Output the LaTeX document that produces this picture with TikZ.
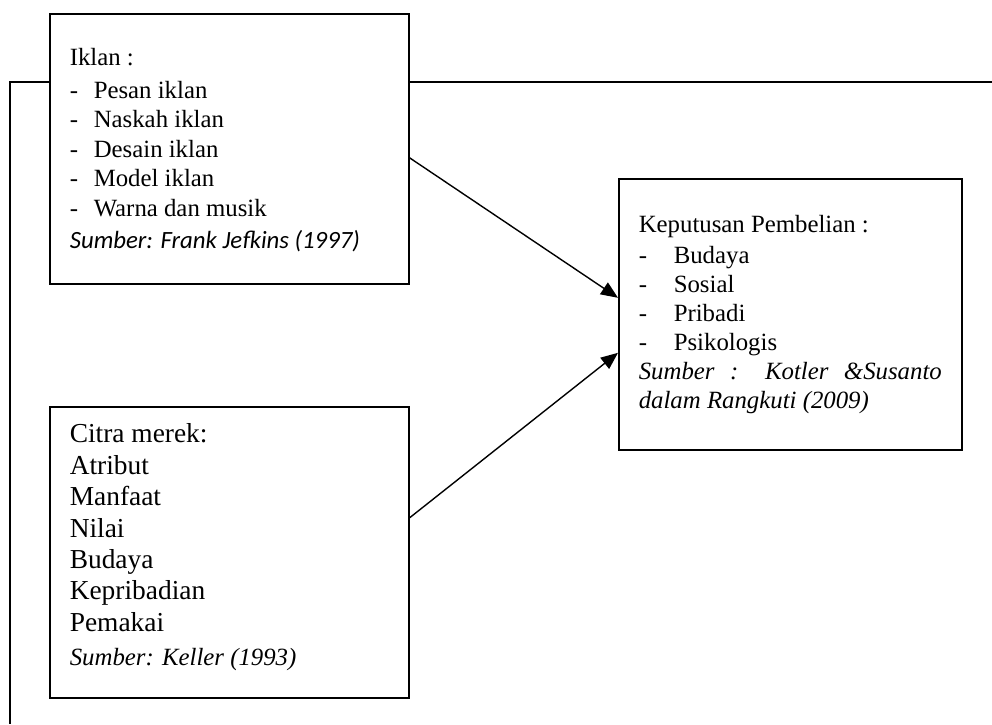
\documentclass[tikz,border=0pt]{standalone}
\usepackage{fontspec}
\setmainfont{Liberation Serif}
\newfontfamily\calibri{Carlito}
\usepackage{tikz}
\usetikzlibrary{arrows.meta, positioning}

% box content, top aligned: width, height, text
\newcommand{\isikotak}[3]{\parbox[c][#2][t]{#1}{#3}}
\newcommand{\butir}[2]{\makebox[#1][l]{-}#2\par}

\tikzset{
  kotak/.style={
    draw, line width=0.8pt, fill=white, anchor=north west,
    inner xsep=10pt, inner ysep=0pt, align=left
  },
  panah/.style={-{Triangle[length=8.5pt, width=7pt]}, line width=0.7pt},
  bingkai/.style={line width=0.9pt}
}

\begin{document}
\begin{tikzpicture}[x=0.5pt, y=-0.5pt]
  \useasboundingbox (0,0) rectangle (992,724);

  % outer frame line
  \coordinate (frameR) at (992,82);
  \coordinate (frameB) at (10,724);
  \draw[bingkai] (frameR) -| (frameB);

  \node[kotak] (iklan) at (49,13) {\isikotak{159.5pt}{135pt}{%
    \fontsize{12.4}{14.75}\selectfont
    \rule{0pt}{26pt}Iklan :\par\vspace{1.5pt}
    \butir{12pt}{Pesan iklan}
    \butir{12pt}{Naskah iklan}
    \butir{12pt}{Desain iklan}
    \butir{12pt}{Model iklan}
    \butir{12pt}{Warna dan musik}
    \vspace{1.2pt}{\calibri\itshape Sumber: Frank Jefkins (1997)}\par}};

  \node[kotak] (citra) at (49,406) {\isikotak{159.5pt}{145.5pt}{%
    \fontsize{13.7}{15.7}\selectfont
    \rule{0pt}{18pt}Citra merek:\par
    Atribut\par
    Manfaat\par
    Nilai\par
    Budaya\par
    Kepribadian\par
    Pemakai\par
    \vspace{1.3pt}{\fontsize{12.4}{15}\selectfont\itshape Sumber: Keller (1993)}\par}};

  \node[kotak] (keputusan) at (618,178) {\isikotak{151.5pt}{135.5pt}{%
    \fontsize{12.4}{14.5}\selectfont
    \rule{0pt}{27pt}Keputusan Pembelian :\par\vspace{1pt}
    \butir{17.5pt}{Budaya}
    \butir{17.5pt}{Sosial}
    \butir{17.5pt}{Pribadi}
    \butir{17.5pt}{Psikologis}
    {\itshape Sumber : Kotler \&Susanto dalam Rangkuti (2009)}\par}};

  \draw[panah] ([yshift=-4.5pt]iklan.east) -- ([yshift=8.25pt]keputusan.west);
  \draw[panah] ([yshift=17.25pt]citra.east) -- ([yshift=-19.25pt]keputusan.west);
\end{tikzpicture}
\end{document}
